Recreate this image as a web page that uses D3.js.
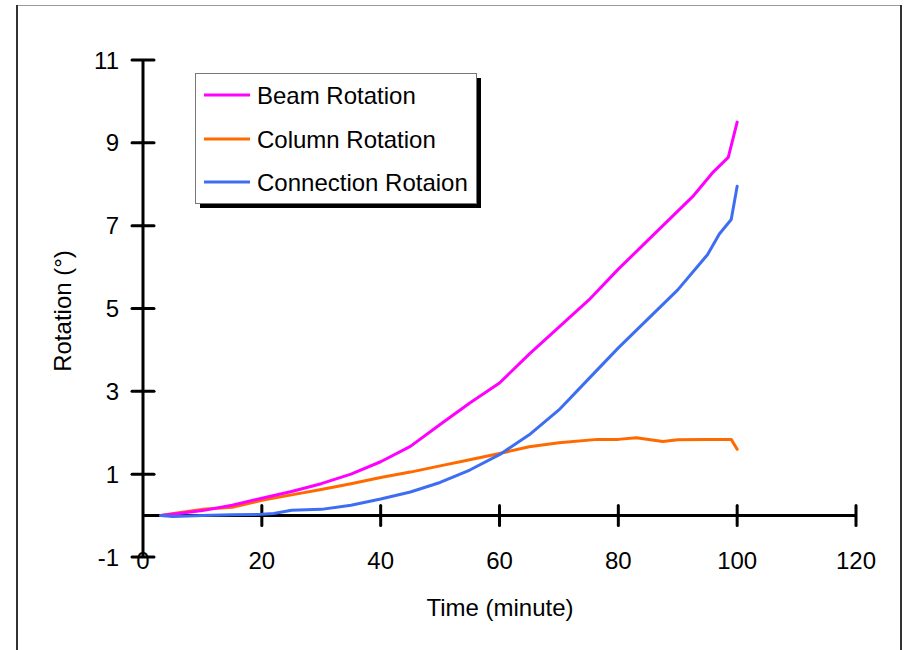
<!DOCTYPE html>
<html>
<head>
<meta charset="utf-8">
<script src="https://cdn.jsdelivr.net/npm/d3@7"></script>
<style>
  body { margin: 0; background: #fff; }
  svg { font-family: "Liberation Sans", Arial, sans-serif; }
</style>
</head>
<body>
<svg id="chart"></svg>
<script>
// time (minute) samples
const beamTime = [3, 6, 10, 15, 20, 25, 30, 35, 40, 45, 50, 55, 60, 65, 70, 75, 80, 85, 90, 92.5, 96, 98.5, 100];
const beamRot  = [0, 0.05, 0.12, 0.25, 0.42, 0.58, 0.77, 1.0, 1.3, 1.67, 2.2, 2.72, 3.2, 3.9, 4.55, 5.2, 5.95, 6.65, 7.35, 7.7, 8.3, 8.65, 9.5];

const colTime = [3, 6, 10, 15, 20, 25, 30, 35, 40, 45, 50, 55, 60, 65, 70, 76.5, 80, 83, 87.5, 90, 95, 99, 100];
const colRot  = [0, 0.07, 0.15, 0.2, 0.37, 0.5, 0.63, 0.77, 0.92, 1.05, 1.2, 1.35, 1.5, 1.66, 1.76, 1.84, 1.84, 1.88, 1.79, 1.83, 1.84, 1.84, 1.6];

const conTime = [3, 5, 10, 15, 20, 22, 25, 30, 35, 40, 45, 50, 55, 60, 65, 70, 75, 80, 85, 90, 95, 97, 99, 100];
const conRot  = [0, -0.02, 0.0, 0.02, 0.03, 0.05, 0.13, 0.15, 0.25, 0.4, 0.57, 0.8, 1.1, 1.47, 1.95, 2.55, 3.3, 4.05, 4.75, 5.45, 6.3, 6.8, 7.15, 7.95];

const seriesNames = ["Beam Rotation", "Column Rotation", "Connection Rotaion"];
const seriesColors = ["#ff00ff", "#ff6a00", "#3d6ef2"];
const xTicks = [0, 20, 40, 60, 80, 100, 120];
const yTicks = [-1, 1, 3, 5, 7, 9, 11];

const W = 905, H = 650;
const svg = d3.select("#chart").attr("width", W).attr("height", H);

// outer frame
svg.append("line").attr("x1", 16).attr("y1", 5.5).attr("x2", 902).attr("y2", 5.5)
  .attr("stroke", "#999").attr("stroke-width", 1);
svg.append("line").attr("x1", 17).attr("y1", 5).attr("x2", 17).attr("y2", H)
  .attr("stroke", "#333").attr("stroke-width", 2);
svg.append("line").attr("x1", 901).attr("y1", 5).attr("x2", 901).attr("y2", H)
  .attr("stroke", "#333").attr("stroke-width", 2);

const x = d3.scaleLinear().domain([0, 120]).range([143, 856]);
const y = d3.scaleLinear().domain([-1, 11]).range([557, 60]);

const g = svg.append("g");

// y axis
g.append("line").attr("x1", x(0)).attr("x2", x(0)).attr("y1", y(-1)).attr("y2", y(11))
  .attr("stroke", "#000").attr("stroke-width", 3);
g.selectAll(".ytick").data(yTicks).join("line")
  .attr("x1", x(0) - 11).attr("x2", x(0) + 11)
  .attr("y1", d => y(d)).attr("y2", d => y(d))
  .attr("stroke", "#000").attr("stroke-width", 3).attr("stroke-linecap", "round");
g.selectAll(".ylab").data(yTicks).join("text")
  .attr("x", 119).attr("y", d => y(d)).attr("dy", "0.36em")
  .attr("text-anchor", "end").attr("font-size", 24).text(d => d);

// x axis at y = 0
g.append("line").attr("x1", x(0)).attr("x2", x(120)).attr("y1", y(0)).attr("y2", y(0))
  .attr("stroke", "#000").attr("stroke-width", 3);
g.selectAll(".xtick").data(xTicks.slice(1)).join("line")
  .attr("x1", d => x(d)).attr("x2", d => x(d))
  .attr("y1", y(0) - 10).attr("y2", y(0) + 10)
  .attr("stroke", "#000").attr("stroke-width", 3).attr("stroke-linecap", "round");
g.selectAll(".xlab").data(xTicks).join("text")
  .attr("x", d => x(d)).attr("y", 569)
  .attr("text-anchor", "middle").attr("font-size", 24).text(d => d);

// titles
svg.append("text").attr("x", 500).attr("y", 616).attr("text-anchor", "middle")
  .attr("font-size", 24).text("Time (minute)");
svg.append("text").attr("transform", "translate(71,311) rotate(-90)")
  .attr("text-anchor", "middle").attr("font-size", 24).text("Rotation (°)");

// lines
const series = [
  beamTime.map((t, i) => [t, beamRot[i]]),
  colTime.map((t, i) => [t, colRot[i]]),
  conTime.map((t, i) => [t, conRot[i]])
];
const line = d3.line().x(d => x(d[0])).y(d => y(d[1]));
[1, 0, 2].forEach(i => {
  g.append("path").datum(series[i])
    .attr("fill", "none").attr("stroke", seriesColors[i])
    .attr("stroke-width", 3).attr("stroke-linejoin", "round").attr("stroke-linecap", "round")
    .attr("d", line);
});

// legend
const lg = svg.append("g");
lg.append("rect").attr("x", 200).attr("y", 78).attr("width", 281).attr("height", 130).attr("fill", "#000");
lg.append("rect").attr("x", 195.5).attr("y", 73.5).attr("width", 281).attr("height", 130)
  .attr("fill", "#fff").attr("stroke", "#777").attr("stroke-width", 1);
const ly = [95, 139, 182];
seriesNames.forEach((n, i) => {
  lg.append("line").attr("x1", 204).attr("x2", 250).attr("y1", ly[i]).attr("y2", ly[i])
    .attr("stroke", seriesColors[i]).attr("stroke-width", 3);
  lg.append("text").attr("x", 257).attr("y", ly[i]).attr("dy", "0.36em")
    .attr("font-size", 24).text(n);
});
</script>
</body>
</html>
